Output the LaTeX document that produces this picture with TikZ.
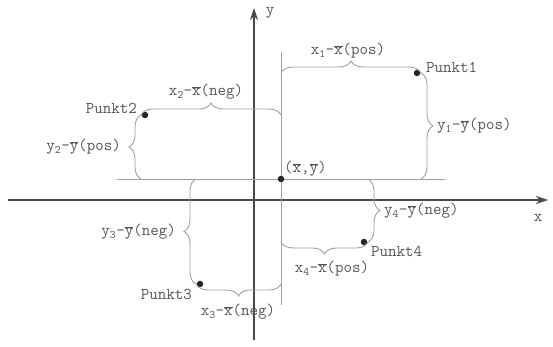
\documentclass[tikz,border=0pt]{standalone}
\usepackage{fontspec}
\usepackage{tikz}
\usetikzlibrary{arrows.meta, calc, decorations.pathreplacing}
\definecolor{axc}{HTML}{4A4A4A}
\definecolor{grc}{HTML}{A0A0A0}
\definecolor{txc}{HTML}{555555}
\newcommand\mbar[1]{$\overline{\mbox{#1}}$}

\begin{document}
\begin{tikzpicture}[x=1pt, y=1pt, font=\ttfamily\fontsize{16.5}{19}\selectfont,
          ax/.style={-{Stealth[length=12pt, width=8pt]}, draw=axc, line width=1.1pt},
          hln/.style={draw=grc, line width=0.9pt},
          br/.style={draw=grc, line width=0.9pt, decorate, decoration={brace, amplitude=12pt}},
          dot/.style={circle, fill=black!85, minimum size=6.5pt, inner sep=0pt},
          lb/.style={text=txc, inner sep=1pt}]
        \useasboundingbox (0,0) rectangle (553,346);
        % axes
        \coordinate (xs) at (8,146); \coordinate (xe) at (548,146);
        \coordinate (ys) at (254,6); \coordinate (ye) at (254,338);
        \draw[ax] (xs) -- (xe); \draw[ax] (ys) -- (ye);
        \node[lb] (xl) at (538,128) {x}; \node[lb] (yl) at (270,333) {y};
        % mean and its cross
        \coordinate (vt) at (281,294); \coordinate (vb) at (281,41);
        \coordinate (hw) at (117,167); \coordinate (he) at (445,167);
        \draw[hln] (vb) -- (vt); \draw[hln] (hw) -- (he);
        \node[dot] (m) at (281,167) {};
        \node[lb, anchor=west] (ml) at (283,177) {(\mbar{x},\mbar{y})};
        % points
        \foreach \i/\px/\py/\dx in {1/417/273/4, 2/145/231/-4, 3/200/62/-4, 4/364/104/4}{
          \node[dot] (p\i) at (\px,\py) {}; \coordinate (k\i) at (\px+\dx,\py); }
        \node[lb, anchor=west] at (425,279) {Punkt1};
        \node[lb, anchor=east] at (138,238) {Punkt2};
        \node[lb, anchor=east] at (193,52) {Punkt3};
        \node[lb, anchor=west] at (370,95) {Punkt4};
        % braces
        \draw[br] (m |- k1) -- (k1); \draw[br] (k1) -- (m -| k1);
        \draw[br] (k2) -- (m |- k2); \draw[br] (m -| k2) -- (k2);
        \draw[br] (k3) -- (m -| k3); \draw[br] (m |- k3) -- (k3);
        \draw[br] (m -| k4) -- (k4); \draw[br] (k4) -- (m |- k4);
        \node[lb] at (348,295) {x\textsubscript{1}-\mbar{x}(pos)};
        \node[lb, anchor=west] at (436,220) {y\textsubscript{1}-\mbar{y}(pos)};
        \node[lb] at (206,254) {x\textsubscript{2}-\mbar{x}(neg)};
        \node[lb, anchor=east] at (122,199) {y\textsubscript{2}-\mbar{y}(pos)};
        \node[lb, anchor=east] at (177,114) {y\textsubscript{3}-\mbar{y}(neg)};
        \node[lb] at (238,34) {x\textsubscript{3}-\mbar{x}(neg)};
        \node[lb, anchor=west] at (383,135) {y\textsubscript{4}-\mbar{y}(neg)};
        \node[lb] at (332,77) {x\textsubscript{4}-\mbar{x}(pos)};
      \end{tikzpicture}
\end{document}
